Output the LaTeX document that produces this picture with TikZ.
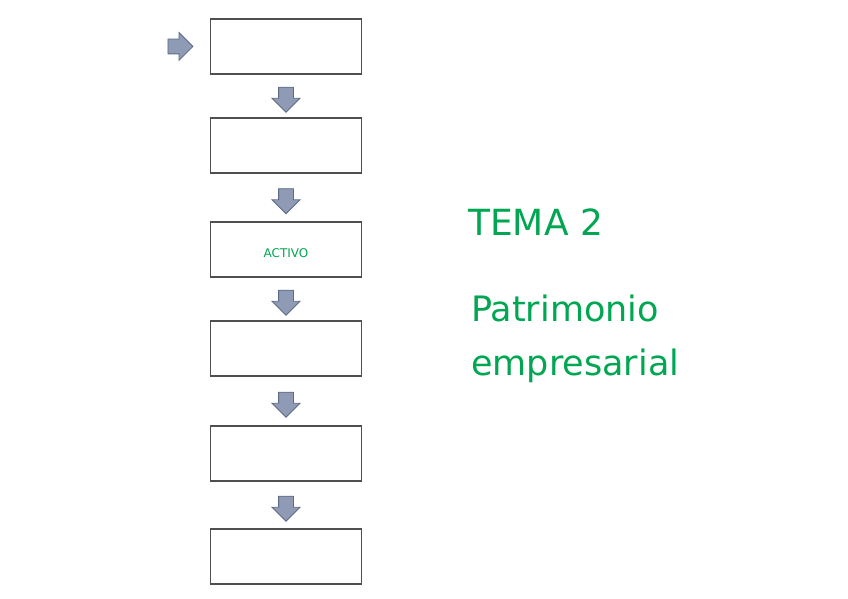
\documentclass[tikz,border=0pt]{standalone}
\usepackage{fontspec}
\setmainfont{DejaVu Sans}
\definecolor{temagreen}{HTML}{00A651}
\definecolor{flechafill}{HTML}{8F9BB4}
\definecolor{flechadraw}{HTML}{5B6A86}
\definecolor{cajagris}{HTML}{4F4F4F}
\usetikzlibrary{shapes.arrows, positioning, calc}

\begin{document}
\begin{tikzpicture}[x=1pt, y=-1pt,
    caja/.style={rectangle, draw=cajagris, line width=1.4pt, fill=white,
                 minimum width=151pt, minimum height=55pt, inner sep=0pt,
                 outer sep=0pt,
                 font=\fontsize{12}{14}\selectfont, text=temagreen},
    flecha/.style={single arrow, draw=flechadraw, fill=flechafill,
                   line width=0.8pt, minimum height=25pt, minimum width=27pt,
                   inner xsep=0pt, inner ysep=7pt,
                   single arrow head extend=6.5pt},
    titulo/.style={anchor=base west, inner sep=0pt, text=temagreen}
  ]
  \useasboundingbox (0,0) rectangle (848,599);

  \node[caja] (c1) at (286,46.5) {};
  \node[caja, below=44pt of c1] (c2) {};
  \node[caja, below=49pt of c2] (c3) {\raisebox{-8pt}[0pt][0pt]{ACTIVO}};
  \node[caja, below=44pt of c3] (c4) {};
  \node[caja, below=50pt of c4] (c5) {};
  \node[caja, below=48pt of c5] (c6) {};

  % flecha de entrada
  \node[flecha, left=17pt of c1] (fin) {};

  % flechas entre cajas
  \foreach \a/\b in {c1/c2, c2/c3, c3/c4, c4/c5, c5/c6}
    \node[flecha, rotate=-90] (f\a) at ($(\a.south)!0.5!(\b.north)$) {};

  \node[titulo, font=\fontsize{36}{40}\selectfont] (tema) at (468,235) {TEMA 2};
  \node[titulo, font=\fontsize{35}{40}\selectfont] (pat) at (471,321) {Patrimonio};
  \node[titulo, font=\fontsize{35}{40}\selectfont] (emp) at (471,375) {empresarial};
\end{tikzpicture}
\end{document}
